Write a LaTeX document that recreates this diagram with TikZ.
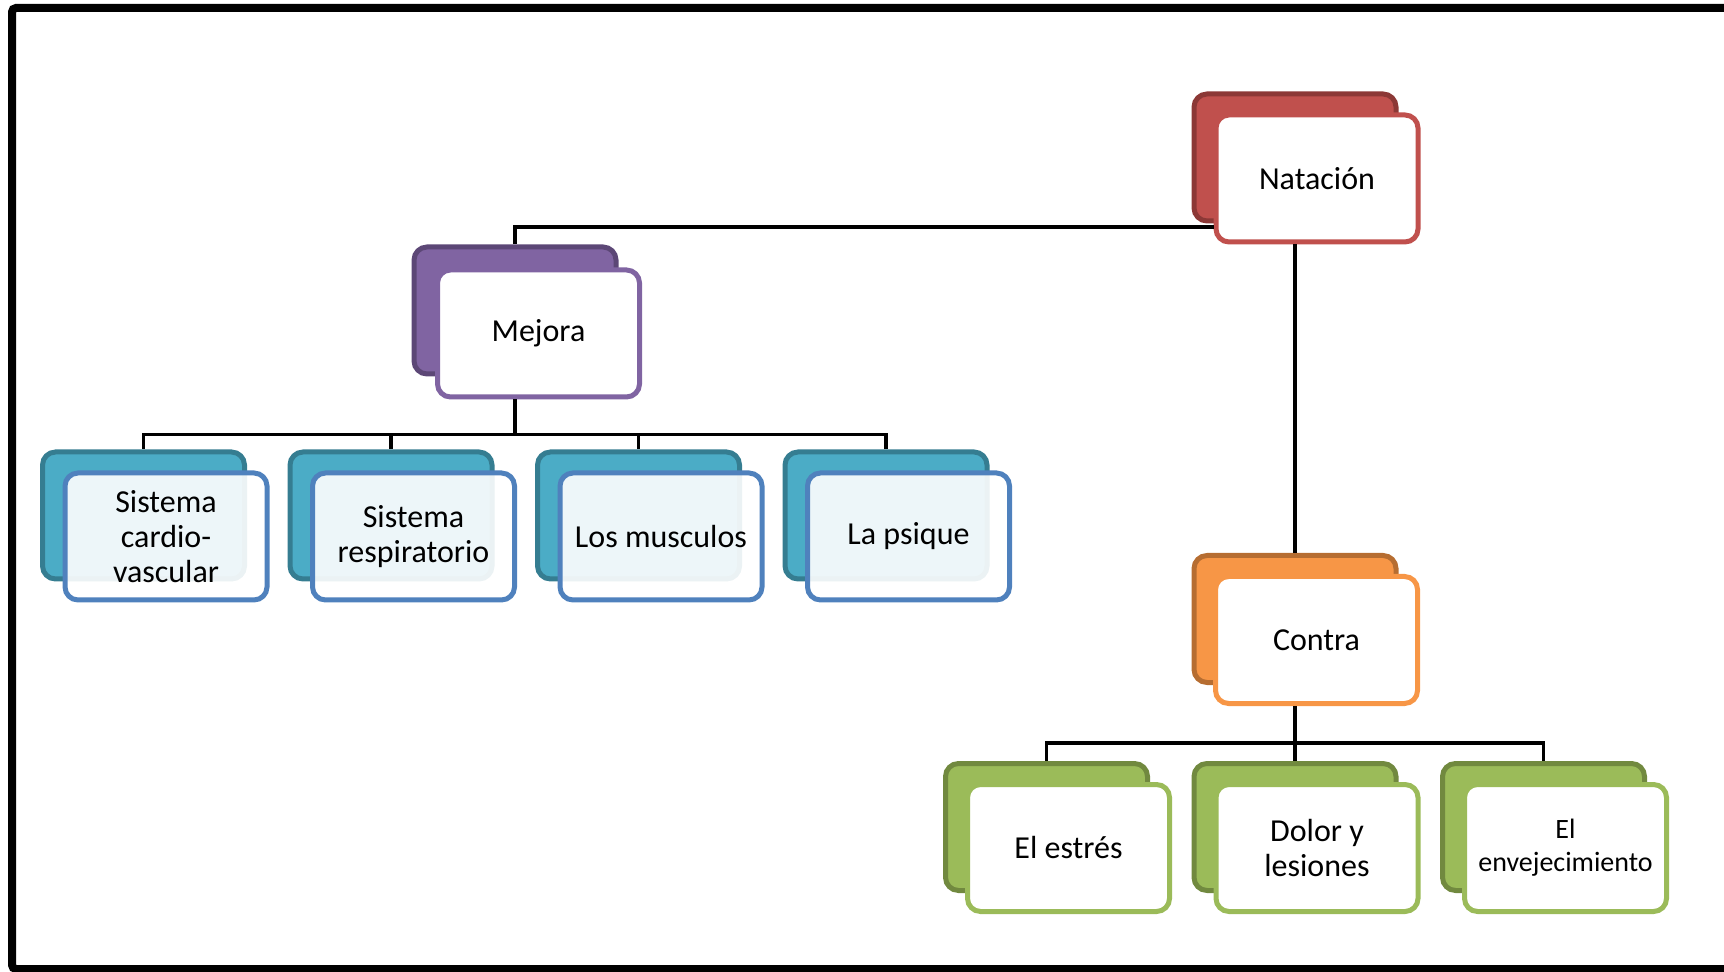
\documentclass[tikz,border=0pt]{standalone}
\usepackage{fontspec}
\setmainfont{Carlito}
\definecolor{redF}{HTML}{C0504D}
\definecolor{redD}{HTML}{8C3836}
\definecolor{purF}{HTML}{8064A2}
\definecolor{purD}{HTML}{5C4776}
\definecolor{orF}{HTML}{F79646}
\definecolor{orD}{HTML}{B66D31}
\definecolor{tealF}{HTML}{4BACC6}
\definecolor{tealD}{HTML}{357D91}
\definecolor{blueD}{HTML}{4F81BD}
\definecolor{grF}{HTML}{9BBB59}
\definecolor{grD}{HTML}{71893F}
\tikzset{>=stealth,
  back/.style={rounded corners=6.5pt, minimum width=101pt, minimum height=63.5pt, line width=2.5pt, inner sep=0pt},
  front/.style={back, fill=white, align=center, font=\fontsize{16}{17.5}\selectfont},
  small/.style={front, font=\fontsize{14}{16.5}\selectfont},
  link/.style={line width=1.8pt, black}
}
\begin{document}
\begin{tikzpicture}[x=0.5pt,y=-0.5pt]
\useasboundingbox (0,0) rectangle (1724,972);
\draw[line width=4pt, rounded corners=2pt] (1730,8) -- (12,8) -- (12,969) -- (1730,969);

\node[back, fill=redF, draw=redD] (natB) at (1295,157.5) {};
\node[front, draw=redF] (nat) at (1317,178.5) {Natación};
\node[back, fill=purF, draw=purD] (mejB) at (515,310.5) {};
\node[front, draw=purF] (mej) at (538.5,333.5) {Mejora};
\node[back, fill=orF, draw=orD] (conB) at (1295,619) {};
\node[front, draw=orF] (con) at (1316.5,640) {Contra};

\foreach \txt [count=\i] in {{Sistema\\cardio-\\vascular}, {Sistema\\respiratorio}, {Los musculos}, {La psique}} {
  \node[back, fill=tealF, draw=tealD] (bk\i) at ({143.5+247.5*(\i-1)},515.5) {};
  \node[front, draw=blueD, fill opacity=0.9, text opacity=1] (b\i) at ({166+247.5*(\i-1)},536.5) {\txt};
}
\foreach \txt/\st [count=\i] in {El estrés/front, Dolor y\\lesiones/front, El\\envejecimiento/small} {
  \node[back, fill=grF, draw=grD] (gk\i) at ({1046.5+248.5*(\i-1)},827) {};
  \node[\st, draw=grF] (g\i) at ({1068.5+248.5*(\i-1)},848) {\txt};
}

\draw[link] (nat.west) ++(0,48.5) -| (mejB.north);
\draw[link] (natB.south |- nat.south) -- (conB.north);
\foreach \i in {1,...,4}
\draw[link] (mejB.south |- mej.south) -- ++(0,35) -| (bk\i.north);
\foreach \i in {1,2,3}
\draw[link] (conB.south |- con.south) -- ++(0,37) -| (gk\i.north);
\end{tikzpicture}
\end{document}
